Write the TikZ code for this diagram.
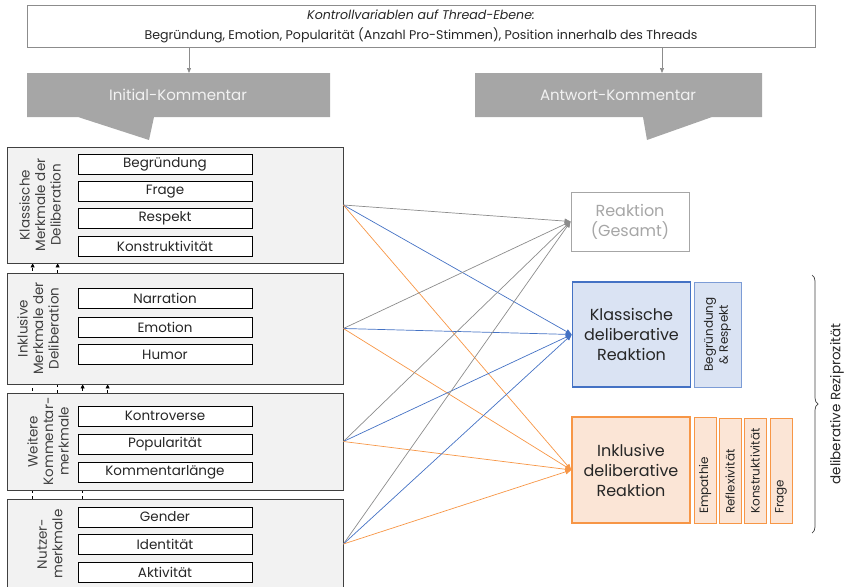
\documentclass[tikz,border=0pt]{standalone}
\usepackage{fontspec}
\setmainfont{Poppins}
\usetikzlibrary{arrows.meta,backgrounds,decorations.pathreplacing}

\definecolor{calloutgray}{HTML}{A6A6A6}
\definecolor{framedark}{HTML}{404040}
\definecolor{groupfill}{HTML}{F2F2F2}
\definecolor{textdark}{HTML}{262626}
\definecolor{linegray}{HTML}{8C8C8C}
\definecolor{lineblue}{HTML}{4472C4}
\definecolor{lineorange}{HTML}{F79646}
\definecolor{bluefill}{HTML}{DAE3F3}
\definecolor{orangefill}{HTML}{FBE5D6}

\begin{document}
\begin{tikzpicture}[x=1pt,y=-1pt,
	every node/.style={text=textdark,inner sep=0pt},
	group/.style={draw=framedark,fill=groupfill,line width=0.8pt,minimum width=336pt},
	item/.style={draw=black,fill=white,line width=0.6pt,minimum width=174pt,minimum height=20pt,font=\fontsize{13.5}{15}\selectfont},
	grouplabel/.style={rotate=90,align=center,text=framedark,font=\fontsize{13.5}{15.5}\selectfont},
	reaction/.style={line width=1.5pt,minimum width=118pt,align=center,font=\fontsize{16}{20}\selectfont},
	facet/.style={rotate=90,anchor=west,font=\fontsize{12}{14}\selectfont},
	link/.style={line width=0.7pt,-{Triangle[length=6pt,width=5pt]}},
	dep/.style={black,line width=0.5pt,dashed,-{Triangle[length=4pt,width=4pt]}}]
	\useasboundingbox (0,0) rectangle (848,586);

	% control variables
	\node[draw=linegray,line width=0.6pt,minimum width=788pt,minimum height=42pt,align=center,
		font=\fontsize{12.6}{20}\selectfont] (ctrl) at (421,26)
		{\textit{Kontrollvariablen auf Thread-Ebene:}\\Begründung, Emotion, Popularität (Anzahl Pro-Stimmen), Position innerhalb des Threads};

	% callouts
	\fill[calloutgray] (27,73) -- (330,73) -- (330,117) -- (154,117) -- (149,140) -- (78,117) -- (27,117) -- cycle;
	\fill[calloutgray] (475,73) -- (762,73) -- (762,117) -- (712,117) -- (647,140) -- (643,117) -- (475,117) -- cycle;
	\node[text=groupfill,font=\fontsize{15}{18}\selectfont] (initial) at (178,95) {Initial-Kommentar};
	\node[text=groupfill,font=\fontsize{15}{18}\selectfont] (antwort) at (618,95) {Antwort-Kommentar};
	\coordinate (initialtop) at (189,73);
	\coordinate (antworttop) at (662,73);
	\draw[linegray,line width=0.7pt,-{Triangle[length=5pt,width=4pt]}] (ctrl.south -| initialtop) -- (initialtop);
	\draw[linegray,line width=0.7pt,-{Triangle[length=5pt,width=4pt]}] (ctrl.south -| antworttop) -- (antworttop);

	% groups of the initial comment
	\node[group,minimum height=116pt] (klass) at (175,205) {};
	\node[group,minimum height=111pt] (inkl) at (175,328.5) {};
	\node[group,minimum height=97pt] (weit) at (175,441.5) {};
	\node[group,minimum height=90pt] (nutz) at (175,544) {};

	\node[grouplabel] at (40,205) {Klassische\\Merkmale der\\Deliberation};
	\node[grouplabel] at (38,328.5) {Inklusive\\Merkmale der\\Deliberation};
	\node[grouplabel] at (48,441.5) {Weitere\\Kommentar-\\merkmale};
	\node[grouplabel] at (50,544) {Nutzer-\\merkmale};

	\node[item] (begr) at (165,164) {Begründung};
	\node[item] (frage) at (165,191.5) {Frage};
	\node[item] (resp) at (165,218.5) {Respekt};
	\node[item] (konst) at (165,246.5) {Konstruktivität};
	\node[item] (narr) at (165,298.5) {Narration};
	\node[item] (emo) at (165,327) {Emotion};
	\node[item] (humor) at (165,354.5) {Humor};
	\node[item] (kontro) at (165,416) {Kontroverse};
	\node[item] (popu) at (165,444) {Popularität};
	\node[item] (laenge) at (165,472) {Kommentarlänge};
	\node[item] (gender) at (165,517) {Gender};
	\node[item] (ident) at (165,544) {Identität};
	\node[item] (aktiv) at (165,572) {Aktivität};

	% links between the groups, behind the boxes
	\begin{scope}[on background layer]
		\draw[dep] ([xshift=26pt]nutz.north west) -- ([xshift=26pt]klass.south west);
		\draw[dep] ([xshift=76pt]nutz.north west) -- ([xshift=76pt]inkl.south west);
		\draw[dep] ([xshift=51pt]weit.north west) -- ([xshift=51pt]klass.south west);
		\draw[dep] ([xshift=101pt]weit.north west) -- ([xshift=101pt]inkl.south west);
	\end{scope}

	% reactions
	\node[draw=calloutgray,line width=0.8pt,minimum width=118pt,minimum height=59pt,align=center,
		text=calloutgray,font=\fontsize{16}{20}\selectfont] (gesamt) at (630,221.5) {Reaktion\\(Gesamt)};
	\node[reaction,draw=lineblue,fill=bluefill,minimum height=105pt] (kdr) at (631.5,334.5) {Klassische\\deliberative\\Reaktion};
	\node[reaction,draw=lineorange,fill=orangefill,minimum height=106pt] (idr) at (631,470) {Inklusive\\deliberative\\Reaktion};

	\draw[lineblue!70,fill=bluefill,line width=0.6pt] (694,282) rectangle (741,387);
	\node[rotate=90,align=center,font=\fontsize{12}{15}\selectfont] (brfacet) at (717.5,334.5) {Begründung\\\& Respekt};

	\draw[lineorange,fill=orangefill,line width=0.6pt] (694,417) rectangle (716,523);
	\draw[lineorange,fill=orangefill,line width=0.6pt] (719,418) rectangle (741,523);
	\draw[lineorange,fill=orangefill,line width=0.6pt] (744,418) rectangle (766,523);
	\draw[lineorange,fill=orangefill,line width=0.6pt] (770,418) rectangle (792,523);
	\node[facet] (empathie) at (705,514) {Empathie};
	\node[facet] (reflex) at (730,514) {Reflexivität};
	\node[facet] (konstr) at (755,514) {Konstruktivität};
	\node[facet] (fragefacet) at (781,514) {Frage};

	% effects
	\foreach \src in {klass,inkl,weit,nutz}{
		\draw[link,linegray] (\src.east) -- (gesamt.west);
		\draw[link,lineblue] (\src.east) -- (kdr.west);
		\draw[link,lineorange] (\src.east) -- (idr.west);
	}

	% reciprocity
	\coordinate (bracetop) at (812,275);
	\coordinate (bracebottom) at (812,533);
	\draw[framedark,line width=0.7pt,decorate,decoration={brace,amplitude=6pt}] (bracetop) -- (bracebottom);
	\node[rotate=90,font=\fontsize{13.5}{15}\selectfont] (rezi) at (837,404) {deliberative Reziprozität};
\end{tikzpicture}
\end{document}
